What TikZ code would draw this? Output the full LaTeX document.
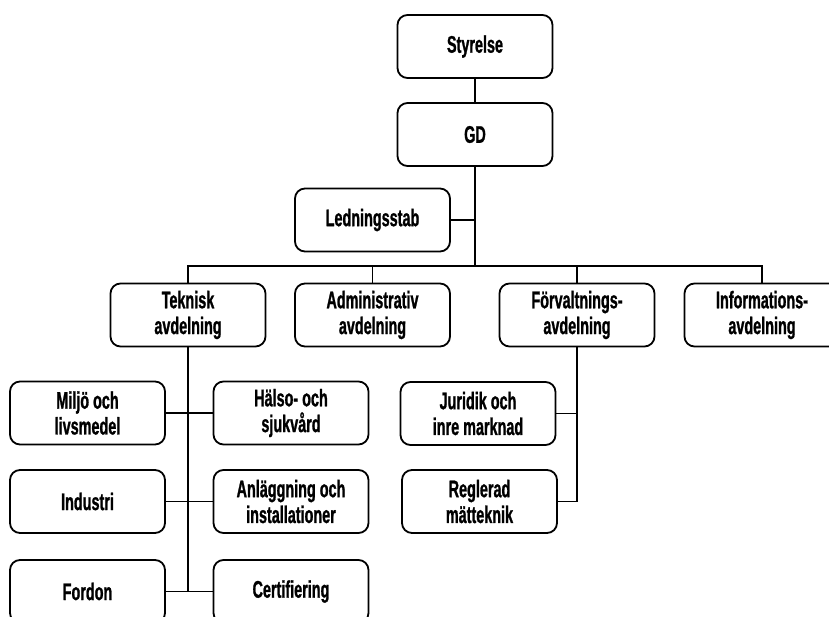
\documentclass[tikz,border=0pt]{standalone}
\usepackage{fontspec}
\setmainfont{Liberation Sans}[FakeStretch=0.6, FakeBold=1]
\usetikzlibrary{positioning}

\begin{document}
\begin{tikzpicture}[
    x=0.5pt, y=-0.5pt,
    font=\fontsize{12}{12.9}\selectfont\bfseries,
    unit/.style={draw, line width=0.9pt, rounded corners=5pt, align=center,
        minimum width=77.5pt, minimum height=31.5pt, inner sep=2pt},
    link/.style={line width=0.8pt}
]
\path[use as bounding box, clip] (0,0) rectangle (829,616);

\node[unit] (styrelse) at (475,46.5) {Styrelse};
\node[unit] (gd) at (475,134.5) {GD};
\node[unit] (stab) at (372.5,220) {Ledningsstab};

\node[unit] (teknisk) at (188,315) {Teknisk\\avdelning};
\node[unit] (admin) at (372.5,315) {Administrativ\\avdelning};
\node[unit] (forv) at (577,315) {Förvaltnings-\\avdelning};
\node[unit] (info) at (762,315) {Informations-\\avdelning};

\node[unit] (miljo) at (87.5,413) {Miljö och\\livsmedel};
\node[unit] (halso) at (291,413) {Hälso- och\\sjukvård};
\node[unit] (industri) at (87.5,501.5) {Industri};
\node[unit] (anlagg) at (291,501.5) {Anläggning och\\installationer};
\node[unit] (fordon) at (87.5,591.5) {Fordon};
\node[unit] (cert) at (291,591.5) {Certifiering};

\node[unit] (juridik) at (478,413.5) {Juridik och\\inre marknad};
\node[unit] (matt) at (479.5,501.5) {Reglerad\\mätteknik};

\coordinate (bus) at (0,266);

\draw[link] (styrelse) -- (gd);
\draw[link] (gd.south) -- (gd.south |- bus);
\draw[link] (stab.east) -- (stab.east -| gd.south);
\draw[link] (teknisk.north) |- (bus -| info.north) -- (info.north);
\draw[link] (admin.north) -- (admin.north |- bus);
\draw[link] (forv.north) -- (forv.north |- bus);

\draw[link] (teknisk.south) -- (teknisk.south |- fordon.east);
\draw[link] (miljo) -- (halso);
\draw[link] (industri) -- (anlagg);
\draw[link] (fordon) -- (cert);

\draw[link] (forv.south) |- (matt.east);
\draw[link] (juridik.east) -- (juridik.east -| forv.south);

\end{tikzpicture}
\end{document}
